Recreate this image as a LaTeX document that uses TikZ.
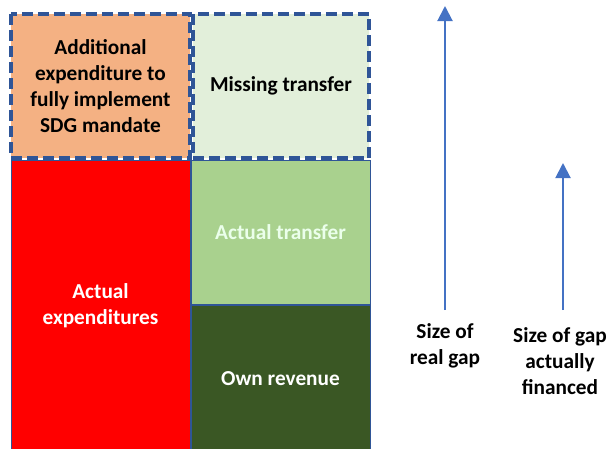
\documentclass[tikz,border=0pt]{standalone}
\usepackage{fontspec}
\setmainfont{Carlito}
\usetikzlibrary{arrows.meta}

\definecolor{gapblue}{HTML}{2F5597}
\definecolor{arrowblue}{HTML}{4472C4}
\definecolor{addorange}{HTML}{F4B183}
\definecolor{missgreen}{HTML}{E2EFDA}
\definecolor{actgreen}{HTML}{A9D18E}
\definecolor{owngreen}{HTML}{3A5724}

\tikzset{
  gapbox/.style={draw=gapblue, line width=4pt, dash pattern=on 11pt off 5pt},
  solidbox/.style={draw=gapblue, line width=1pt},
  lbl/.style={font=\bfseries\fontsize{21.3}{26}\selectfont, align=center},
  uparrow/.style={draw=arrowblue, line width=2pt, -{Triangle[width=15pt,length=15pt]}}
}

\begin{document}
\begin{tikzpicture}[x=1pt,y=-1pt]
        \useasboundingbox (0,0) rectangle (610,448);
        % lower blocks
        \draw [solidbox, fill=red] (11,160) rectangle (190,452) node[pos=.5, lbl, text=white] (actexp) {Actual\\expenditures};
        \draw [solidbox, fill=actgreen] (191,160) rectangle (370,304) node[pos=.5, lbl, text=white!92!green] (acttr) {Actual transfer};
        \draw [solidbox, fill=owngreen] (191,305) rectangle (370,452) node[pos=.5, lbl, text=white] (ownrev) {Own revenue};
        % upper (gap) blocks
        \draw [gapbox, fill=addorange] (11,14) rectangle (190,158) node[pos=.5, lbl] (addexp) {Additional\\expenditure to\\fully implement\\SDG mandate};
        \draw [gapbox, fill=missgreen] (193,14) rectangle (369,158) node[pos=.5, lbl] (misstr) {Missing transfer};
        % gap arrows
        \node [lbl, anchor=north] (realgap) at (445,320) {Size of\\real gap};
        \node [lbl, anchor=north] (fingap) at (560,324) {Size of gap\\actually\\financed};
        \coordinate (realtop) at (445,6);
        \coordinate (fintop) at (563,163);
        \draw [uparrow] (445,310) -- (realtop);
        \draw [uparrow] (563,310) -- (fintop);
\end{tikzpicture}
\end{document}
